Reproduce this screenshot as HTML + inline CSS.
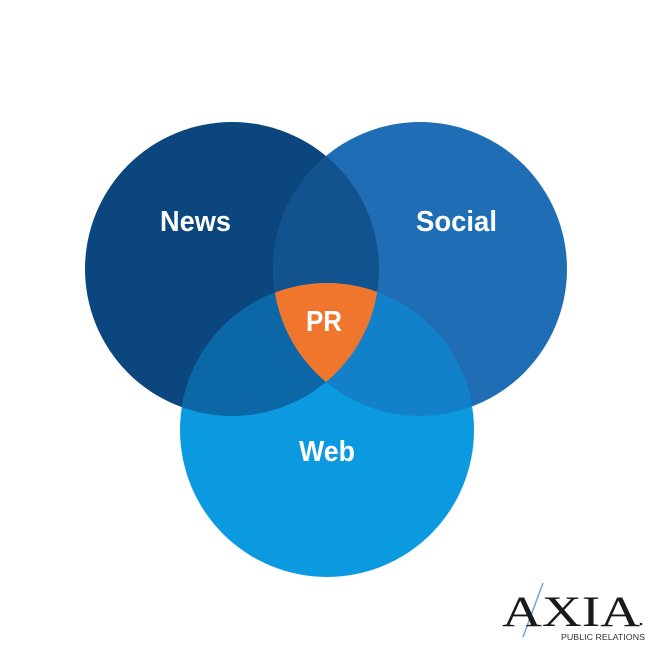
<!DOCTYPE html>
<html><head><meta charset="utf-8"><style>
html,body{margin:0;padding:0;background:#fff;}
svg{display:block;}
text{font-family:"Liberation Sans",sans-serif;font-weight:bold;fill:#fff;}
</style></head><body>
<svg width="660" height="648" viewBox="0 0 660 648">
<defs>
<clipPath id="cN"><circle cx="232" cy="269" r="147"/></clipPath>
<clipPath id="cS"><circle cx="420" cy="269" r="147"/></clipPath>
<clipPath id="cW"><circle cx="327" cy="430" r="147"/></clipPath>
</defs>
<rect width="660" height="648" fill="#fff"/>
<circle cx="232" cy="269" r="147" fill="#0b467f"/>
<circle cx="420" cy="269" r="147" fill="#1f6db5"/>
<circle cx="327" cy="430" r="147" fill="#0b9ae0"/>
<g clip-path="url(#cN)"><circle cx="420" cy="269" r="147" fill="#12528f"/></g>
<g clip-path="url(#cN)"><circle cx="327" cy="430" r="147" fill="#0b67a6"/></g>
<g clip-path="url(#cS)"><circle cx="327" cy="430" r="147" fill="#1381c9"/></g>
<g clip-path="url(#cN)"><g clip-path="url(#cS)"><circle cx="327" cy="430" r="147" fill="#f0762e"/></g></g>
<text x="160" y="231" font-size="29" textLength="71" lengthAdjust="spacingAndGlyphs">News</text>
<text x="416" y="231" font-size="29" textLength="81" lengthAdjust="spacingAndGlyphs">Social</text>
<text x="306" y="331" font-size="29" textLength="36" lengthAdjust="spacingAndGlyphs">PR</text>
<text x="299" y="461" font-size="29" textLength="56" lengthAdjust="spacingAndGlyphs">Web</text>
<line x1="543" y1="583" x2="523" y2="637" stroke="#6aa6e0" stroke-width="1.5"/>
<text x="502" y="626" font-size="43" font-weight="normal" style="font-family:'Liberation Serif',serif;font-weight:normal;fill:#1a1a1a" textLength="138" lengthAdjust="spacingAndGlyphs">AXIA</text>
<circle cx="641" cy="624" r="1.3" fill="#1a1a1a"/>
<text x="561" y="640" font-size="8" style="font-family:'Liberation Sans',sans-serif;font-weight:normal;fill:#333" textLength="84" lengthAdjust="spacingAndGlyphs">PUBLIC RELATIONS</text>
</svg>
</body></html>
